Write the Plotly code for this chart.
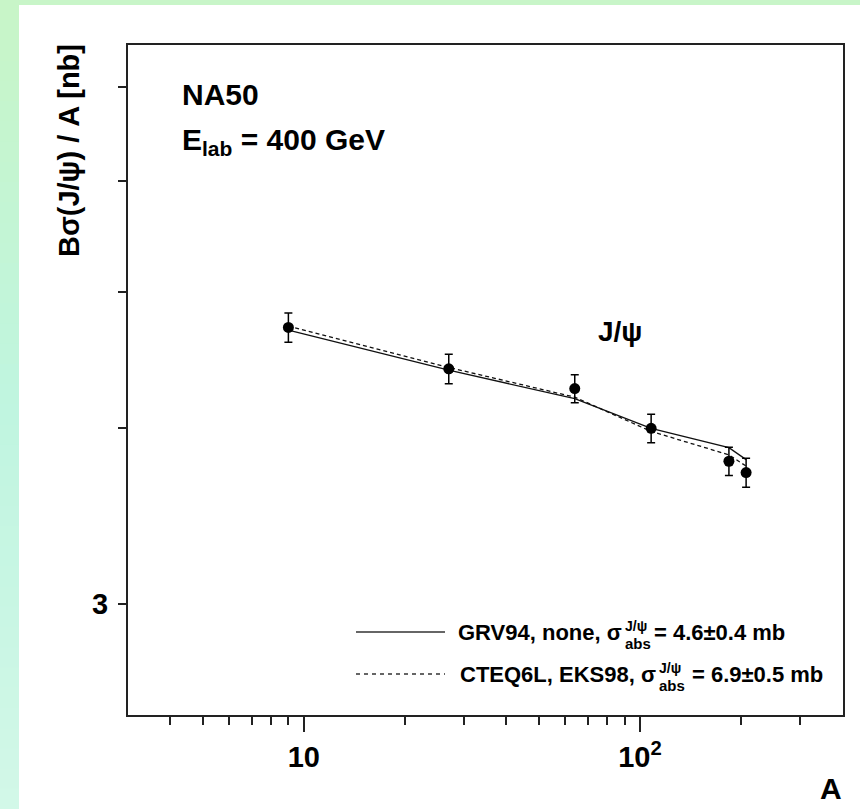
import plotly.graph_objects as go

# ---- data ----
A_vals = [9, 27, 64, 108, 184, 207]
sigma_meas = [4.72, 4.41, 4.27, 4.00, 3.79, 3.72]
sigma_err = [0.113, 0.106, 0.098, 0.093, 0.088, 0.089]
grv94_none = [4.70, 4.40, 4.20, 4.00, 3.875, 3.80]
cteq6l_eks98 = [4.73, 4.42, 4.21, 3.98, 3.83, 3.76]

x_major = [10, 100]
x_major_text = ["10", "10<sup>2</sup>"]
x_minor = [4, 5, 6, 7, 8, 9, 20, 30, 40, 50, 60, 70, 80, 90, 200, 300]
y_major = [3]
y_major_text = ["3"]
y_minor = [4, 5, 6, 7]

W, H = 860, 809
ML, MR, MT, MB = 128, 17, 45, 94
PW, PH = W - ML - MR, H - MT - MB
FONT = "Liberation Sans, Arial, sans-serif"


def px(x):
    return (x - ML) / PW


def py(y):
    return (MT + PH - y) / PH


fig = go.Figure()

fig.add_trace(go.Scatter(x=A_vals, y=grv94_none, mode="lines",
                         line=dict(color="#111", width=1.3), showlegend=False))
fig.add_trace(go.Scatter(x=A_vals, y=cteq6l_eks98, mode="lines",
                         line=dict(color="#111", width=1.3, dash="4px,3px"), showlegend=False))
fig.add_trace(go.Scatter(x=A_vals, y=sigma_meas, mode="markers",
                         marker=dict(color="black", size=11),
                         error_y=dict(type="data", array=sigma_err, color="black",
                                      thickness=1.5, width=4),
                         showlegend=False))

shapes = []
# green border background with a vertical gradient on the left strip
top_c = (200, 245, 200)
mid_c = (192, 245, 224)
bot_c = (210, 248, 232)
n = 40
for i in range(n):
    t = i / (n - 1)
    if t < 0.5:
        u = t / 0.5
        c = tuple(int(top_c[k] + (mid_c[k] - top_c[k]) * u) for k in range(3))
    else:
        u = (t - 0.5) / 0.5
        c = tuple(int(mid_c[k] + (bot_c[k] - mid_c[k]) * u) for k in range(3))
    y0 = i * H / n
    y1 = (i + 1) * H / n + 1
    shapes.append(dict(type="rect", xref="paper", yref="paper",
                       x0=px(0), x1=px(19), y0=py(y1), y1=py(y0),
                       fillcolor="rgb(%d,%d,%d)" % c, line=dict(width=0), layer="below"))
shapes.append(dict(type="rect", xref="paper", yref="paper",
                   x0=px(0), x1=px(W), y0=py(5), y1=py(0),
                   fillcolor="rgb(200,245,200)", line=dict(width=0), layer="below"))
shapes.append(dict(type="rect", xref="paper", yref="paper",
                   x0=px(19), x1=px(W), y0=py(H), y1=py(5),
                   fillcolor="white", line=dict(width=0), layer="below"))
# legend line samples
shapes.append(dict(type="line", xref="paper", yref="paper",
                   x0=px(356), x1=px(445), y0=py(632), y1=py(632),
                   line=dict(color="#333", width=1.3)))
shapes.append(dict(type="line", xref="paper", yref="paper",
                   x0=px(356), x1=px(445), y0=py(674), y1=py(674),
                   line=dict(color="#333", width=1.3, dash="4px,4px")))

ann = []


def text(x, y, s, size, anchor="left", angle=0, weight="bold"):
    ann.append(dict(x=px(x), y=py(y), xref="paper", yref="paper", text=s,
                    showarrow=False, xanchor=anchor, yanchor="middle",
                    textangle=angle,
                    font=dict(family=FONT, size=size, color="black", weight=weight)))


text(180, 94, "NA50", 30)
text(180, 141, "E<sub>lab</sub> = 400 GeV", 30)
text(596, 331, "J/ψ", 28)
text(831, 788, "A", 30, anchor="center")
text(69, 151, "Bσ(J/ψ) / A [nb]", 29, anchor="center", angle=-90)

# legend texts
text(624, 632, "GRV94, none, σ", 22, anchor="right")
text(623, 626, "J/ψ", 14)
text(623, 643, "abs", 15)
text(652, 632, "= 4.6±0.4 mb", 22)
text(658, 674, "CTEQ6L, EKS98, σ", 22, anchor="right")
text(657, 668, "J/ψ", 14)
text(657, 685, "abs", 15)
text(690, 674, "= 6.9±0.5 mb", 22)

fig.update_layout(
    width=W, height=H,
    margin=dict(l=ML, r=MR, t=MT, b=MB),
    paper_bgcolor="rgb(196,245,220)",
    plot_bgcolor="white",
    shapes=shapes,
    annotations=ann,
    font=dict(family=FONT, color="black"),
    showlegend=False,
)

fig.update_xaxes(type="log", range=[0.4771, 2.6042],
                 tickmode="array", tickvals=x_major, ticktext=x_major_text,
                 ticks="outside", ticklen=15, tickwidth=1.5, tickcolor="#222",
                 minor=dict(tickmode="array", tickvals=x_minor, ticks="outside",
                            ticklen=8, tickwidth=1.5, tickcolor="#222", showgrid=False),
                 showgrid=False, zeroline=False,
                 showline=True, linecolor="#222", linewidth=2, mirror=True,
                 tickfont=dict(family=FONT, size=29, color="black", weight="bold"),
                 ticklabelstandoff=0)

fig.update_yaxes(type="log", range=[0.3979, 0.8751],
                 tickmode="array", tickvals=y_major, ticktext=y_major_text,
                 ticks="outside", ticklen=8, tickwidth=1.5, tickcolor="#222",
                 minor=dict(tickmode="array", tickvals=y_minor, ticks="outside",
                            ticklen=8, tickwidth=1.5, tickcolor="#222", showgrid=False),
                 showgrid=False, zeroline=False,
                 showline=True, linecolor="#222", linewidth=2, mirror=True,
                 tickfont=dict(family=FONT, size=29, color="black", weight="bold"),
                 ticklabelstandoff=4)

fig.write_html("out.html")
